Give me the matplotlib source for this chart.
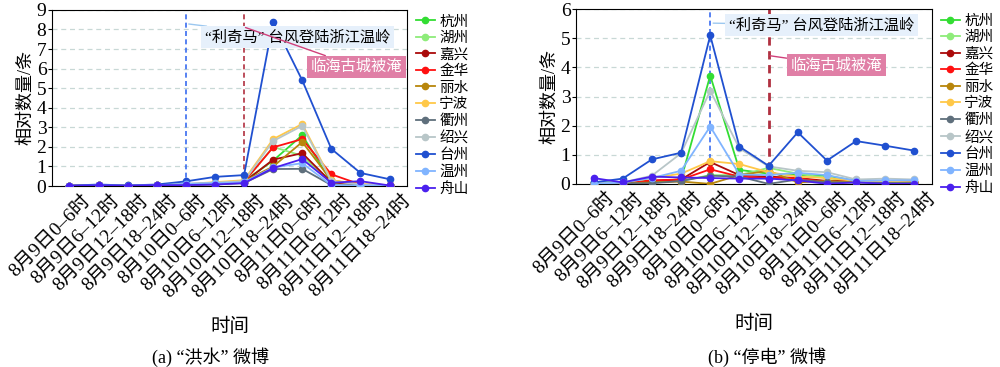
import numpy as np
import matplotlib
matplotlib.use("Agg")
import matplotlib.pyplot as plt
import matplotlib.transforms as mtransforms

plt.rcParams['font.family'] = ['Liberation Serif', 'Noto Sans CJK SC', 'DejaVu Sans']
plt.rcParams['axes.unicode_minus'] = False

time_labels = ["8月9日0–6时", "8月9日6–12时", "8月9日12–18时", "8月9日18–24时",
               "8月10日0–6时", "8月10日6–12时", "8月10日12–18时", "8月10日18–24时",
               "8月11日0–6时", "8月11日6–12时", "8月11日12–18时", "8月11日18–24时"]

cities = ["杭州", "湖州", "嘉兴", "金华", "丽水", "宁波", "衢州", "绍兴", "台州", "温州", "舟山"]
city_colours = ["#33dd33", "#8eec7a", "#aa0a0a", "#ff1010", "#b8860b", "#ffc848",
                "#5f6f7c", "#b8c6c8", "#2050d0", "#80b4ff", "#4a20ee"]

# (a) flood posts
flood_hangzhou = [0.02, 0.05, 0.02, 0.05, 0.08, 0.15, 0.25, 1.3, 2.6, 0.2, 0.05, 0.05]
flood_huzhou = [0.01, 0.04, 0.02, 0.04, 0.06, 0.12, 0.2, 2.0, 1.55, 0.15, 0.05, 0.05]
flood_jiaxing = [0.01, 0.03, 0.02, 0.03, 0.05, 0.1, 0.2, 1.35, 1.68, 0.2, 0.05, 0.03]
flood_jinhua = [0.02, 0.04, 0.02, 0.05, 0.08, 0.15, 0.22, 1.98, 2.4, 0.6, 0.08, 0.05]
flood_lishui = [0.01, 0.03, 0.02, 0.04, 0.06, 0.15, 0.25, 1.0, 2.25, 0.3, 0.05, 0.05]
flood_ningbo = [0.02, 0.05, 0.03, 0.06, 0.1, 0.2, 0.3, 2.4, 3.17, 0.3, 0.1, 0.05]
flood_quzhou = [0.01, 0.02, 0.01, 0.03, 0.05, 0.08, 0.15, 0.87, 0.88, 0.05, 0.03, 0.02]
flood_shaoxing = [0.02, 0.04, 0.03, 0.05, 0.1, 0.18, 0.25, 2.3, 3.08, 0.25, 0.08, 0.05]
flood_taizhou = [0.02, 0.08, 0.03, 0.08, 0.24, 0.47, 0.56, 8.4, 5.4, 1.9, 0.67, 0.35]
flood_wenzhou = [0.01, 0.03, 0.02, 0.04, 0.12, 0.15, 0.2, 0.95, 1.17, 0.05, 0.03, 0.02]
flood_zhoushan = [0.02, 0.04, 0.02, 0.05, 0.05, 0.08, 0.15, 0.92, 1.38, 0.17, 0.25, 0.03]

# (b) power-outage posts
power_hangzhou = [0.05, 0.05, 0.1, 0.15, 3.72, 0.48, 0.35, 0.3, 0.28, 0.1, 0.05, 0.05]
power_huzhou = [0.02, 0.03, 0.08, 0.1, 0.3, 0.3, 0.55, 0.35, 0.2, 0.08, 0.05, 0.05]
power_jiaxing = [0.02, 0.02, 0.1, 0.15, 0.75, 0.3, 0.25, 0.2, 0.1, 0.12, 0.05, 0.05]
power_jinhua = [0.02, 0.02, 0.12, 0.15, 0.5, 0.25, 0.2, 0.2, 0.05, 0.1, 0.05, 0.05]
power_lishui = [0.0, 0.02, 0.05, 0.08, 0.0, 0.3, 0.45, 0.05, 0.1, 0.05, 0.05, 0.05]
power_ningbo = [0.02, 0.05, 0.2, 0.35, 0.78, 0.68, 0.4, 0.25, 0.2, 0.1, 0.08, 0.05]
power_quzhou = [0.02, 0.02, 0.02, 0.1, 0.28, 0.25, 0.0, 0.15, 0.05, 0.05, 0.03, 0.03]
power_shaoxing = [0.02, 0.05, 0.28, 1.05, 3.2, 1.22, 0.6, 0.45, 0.4, 0.15, 0.18, 0.15]
power_taizhou = [0.05, 0.18, 0.84, 1.07, 5.1, 1.28, 0.62, 1.77, 0.8, 1.47, 1.31, 1.14]
power_wenzhou = [0.0, 0.05, 0.2, 0.45, 1.97, 0.32, 0.3, 0.38, 0.3, 0.1, 0.12, 0.12]
power_zhoushan = [0.2, 0.05, 0.25, 0.22, 0.2, 0.18, 0.18, 0.12, 0.0, 0.05, 0.0, 0.0]

flood_series = [flood_hangzhou, flood_huzhou, flood_jiaxing, flood_jinhua, flood_lishui, flood_ningbo,
                flood_quzhou, flood_shaoxing, flood_taizhou, flood_wenzhou, flood_zhoushan]
power_series = [power_hangzhou, power_huzhou, power_jiaxing, power_jinhua, power_lishui, power_ningbo,
                power_quzhou, power_shaoxing, power_taizhou, power_wenzhou, power_zhoushan]

typhoon_text = "“利奇马” 台风登陆浙江温岭"
flood_text = "临海古城被淹"


def draw_panel(fig, ax, series, ymax, typhoon_idx, city_idx, typhoon_xy, city_xy, red_lw):
    x = np.arange(len(time_labels))
    ax.set_axisbelow(True)
    ax.grid(axis='y', linestyle=(0, (4, 3)), color='#c8d8d6', linewidth=0.9)
    ax.axvline(typhoon_idx, color='#3a6cf0', linestyle=(0, (3, 2)), linewidth=1.2, zorder=1)
    ax.axvline(city_idx, color='#b03040', linestyle=(0, (3, 2)), linewidth=red_lw, zorder=1)
    for name, vals, col in zip(cities, series, city_colours):
        ax.plot(x, vals, color=col, marker='o', markersize=4.5, linewidth=1.3, label=name, zorder=3)

    ax.set_xlim(-0.6, len(time_labels) - 0.4)
    ax.set_ylim(0, ymax)
    ax.set_yticks(range(ymax + 1))
    ax.set_xticks(x)
    ax.tick_params(axis='y', labelsize=14, direction='out', length=3, pad=1)
    ax.tick_params(axis='x', direction='out', length=0, pad=4)
    ax.set_xticklabels(time_labels, rotation=45, ha='right', rotation_mode='anchor', fontsize=14)
    # labels in the reference sit a bit right of their ticks
    shift = mtransforms.ScaledTranslation(9 / 72, 0, fig.dpi_scale_trans)
    for lbl in ax.get_xticklabels():
        lbl.set_transform(lbl.get_transform() + shift)
    ax.set_ylabel("相对数量/条", fontsize=13, labelpad=2)
    ax.set_xlabel("时间", fontsize=14, labelpad=12)

    ax.annotate(typhoon_text, xy=(typhoon_idx + 0.1, ymax * 0.92), xytext=typhoon_xy,
                textcoords='data', fontsize=11, va='center', ha='left',
                bbox=dict(boxstyle='square,pad=0.25', fc='#e6f0fb', ec='none'),
                arrowprops=dict(arrowstyle='-', color='#9cc8f0', lw=1.0, shrinkA=0, shrinkB=0), zorder=5)
    ax.annotate(flood_text, xy=(city_idx + 0.05, city_xy[2]), xytext=city_xy[:2],
                textcoords='data', fontsize=11, va='center', ha='left', color='white',
                bbox=dict(boxstyle='square,pad=0.25', fc='#e07fa6', ec='none'),
                arrowprops=dict(arrowstyle='-', color='#d0407a', lw=1.0, shrinkA=0, shrinkB=0), zorder=5)

    ax.legend(loc='upper left', bbox_to_anchor=(1.0, 1.02), frameon=False, fontsize=10.5,
              handlelength=1.3, handletextpad=0.3, labelspacing=0.22, borderaxespad=0.2)


fig = plt.figure(figsize=(10, 3.67), dpi=100)
ax_a = fig.add_axes([0.052, 0.493, 0.355, 0.48])
ax_b = fig.add_axes([0.576, 0.499, 0.356, 0.476])

draw_panel(fig, ax_a, flood_series, 9, 4, 6, (4.65, 7.6), (8.3, 6.1, 8.1), 1.2)
draw_panel(fig, ax_b, power_series, 6, 4, 6, (4.65, 5.45), (6.75, 4.07, 4.4), 2.0)

fig.text(0.21, 0.01, "(a) “洪水” 微博", fontsize=13, ha='center')
fig.text(0.767, 0.01, "(b) “停电” 微博", fontsize=13, ha='center')

fig.savefig("out.png", dpi=100)
